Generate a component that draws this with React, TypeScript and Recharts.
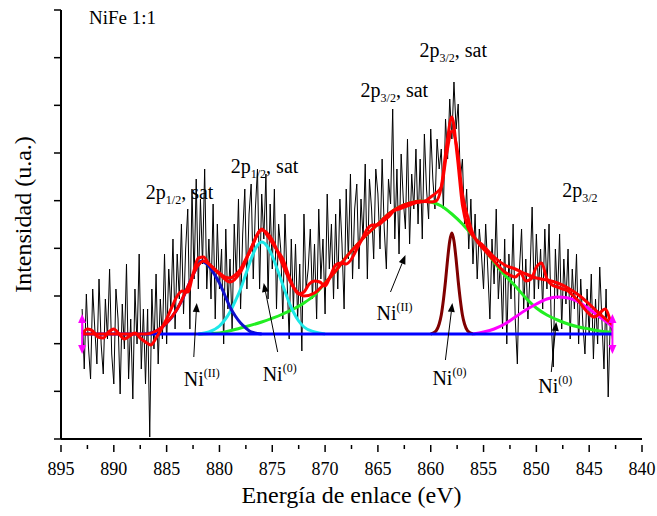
import React from 'react';
import { ComposedChart, Line, XAxis, YAxis, ReferenceDot, ReferenceLine } from 'recharts';

const FONT = '"Liberation Serif", "Times New Roman", serif';

// raw spectrum (black), energy grid 893.0 -> 842.8 step 0.2 eV
const SPEC_START = 893;
const SPEC_STEP = 0.2;
const spectrum = [
  130, 70, 145, 92, 60, 150, 110, 75, 160, 95,
  65, 140, 100, 170, 85, 55, 150, 120, 45, 135,
  90, 175, 60, 120, 40, 150, 95, 185, 70, 130,
  55, 130, 2, 150, 90, 165, 75, 140, 100, 185,
  95, 170, 130, 200, 110, 185, 140, 215, 125, 190,
  230, 110, 250, 160, 260, 150, 240, 175, 270, 150,
  200, 140, 235, 120, 215, 150, 190, 95, 210, 130,
  180, 110, 215, 160, 240, 130, 205, 250, 150, 225,
  255, 160, 230, 270, 150, 245, 200, 265, 140, 235,
  170, 250, 130, 215, 190, 120, 225, 160, 100, 200,
  130, 195, 120, 175, 88, 225, 150, 170, 210, 140,
  195, 120, 230, 160, 200, 125, 245, 170, 215, 140,
  225, 150, 240, 195, 130, 250, 180, 265, 160, 230,
  255, 170, 240, 200, 275, 160, 260, 230, 180, 270,
  245, 190, 280, 210, 170, 260, 235, 330, 200, 270,
  185, 285, 240, 210, 300, 195, 265, 230, 290, 215,
  280, 200, 305, 250, 220, 310, 260, 230, 300, 270,
  290, 230, 320, 280, 340, 300, 357, 310, 335, 260,
  280, 215, 250, 190, 240, 175, 225, 160, 210, 185,
  150, 215, 170, 120, 200, 155, 230, 140, 180, 110,
  200, 95, 185, 140, 215, 120, 75, 170, 210, 130,
  180, 120, 165, 232, 140, 205, 150, 190, 130, 210,
  150, 215, 120, 72, 190, 140, 205, 110, 180, 135,
  190, 100, 170, 130, 185, 95, 160, 115, 85, 150,
  105, 165, 80, 140, 95, 172, 120, 70, 150, 42,
  120, 100,
];

// smoothed spectrum (wiggly red), 893 -> 843 step 0.5
const SMOOTH_START = 893;
const SMOOTH_STEP = 0.5;
const smoothed = [
  105, 110, 108, 102, 101, 107, 110, 105, 100, 103,
  106, 101, 97, 94, 101, 110, 120, 132, 143, 148,
  147, 165, 181, 182, 175, 170, 166, 162, 161, 164,
  170, 180, 190, 203, 210, 204, 196, 188, 180, 165,
  152, 145, 147, 155, 158, 157, 153, 163, 174, 176,
  175, 180, 190, 200, 210, 214, 214, 218, 222, 228,
  230, 232, 234, 236, 237, 238, 242, 246, 252, 285,
  308, 290, 245, 222, 205, 196, 190, 184, 178, 172,
  167, 164, 162, 166, 158, 160, 172, 176, 160, 154,
  152, 150, 148, 143, 138, 131, 125, 122, 126, 130,
  118,
];

// baseline
const baselineE = [893, 842.8];
const baselineV = [105, 105];

// Ni(II) 2p1/2 sat (blue)
const blueE = [887, 886.5, 886, 885.5, 885, 884.5, 884, 883.5, 883, 882.5, 882, 881.7, 881.5, 881, 880.5, 880, 879.5, 879, 878.5, 878, 877.5, 877, 876];
const blueV = [105, 106, 108, 111, 116, 122, 130, 140, 152, 164, 174, 178, 177, 173, 165, 156, 144, 132, 123, 116, 111, 107, 105];

// Ni(0) 2p1/2 sat (cyan)
const cyanE = [882, 881, 880, 879.5, 879, 878.5, 878, 877.5, 877, 876.5, 876, 875.5, 875, 874.5, 874, 873.5, 873, 872.5, 872, 871, 870];
const cyanV = [105, 107, 113, 119, 127, 138, 150, 165, 180, 192, 197, 193, 183, 169, 154, 139, 127, 118, 112, 107, 105];

// Ni(II) 2p3/2 sat (green)
const greenE = [882, 880, 878, 876, 874, 872, 871, 870, 869, 868, 867, 866, 865, 864, 863, 862, 861, 860, 859, 858, 857, 856, 855, 854, 853, 852, 851, 850, 849, 848, 847, 846, 845, 844, 843, 842.8];
const greenV = [105, 106, 111, 117, 125, 136, 144, 156, 168, 182, 194, 205, 215, 225, 232, 236, 238, 237, 233, 225, 215, 203, 191, 177, 164, 153, 141, 131, 124, 119, 115, 112, 110, 108, 107, 107];

// Ni(0) 2p3/2 sat (brown)
const brownE = [860, 859.5, 859.2, 859, 858.8, 858.6, 858.4, 858.2, 858, 857.8, 857.6, 857.4, 857.2, 857, 856.8, 856.5, 856];
const brownV = [105, 108, 115, 124, 139, 158, 180, 198, 206, 198, 180, 158, 139, 124, 115, 108, 105];

// Ni(0) 2p3/2 (magenta)
const magentaE = [856, 855, 854, 853, 852, 851, 850, 849, 848, 847, 846, 845, 844, 843, 842.8];
const magentaV = [105, 107, 110, 115, 122, 129, 135, 140, 142, 141, 137, 130, 122, 114, 112];

// cumulative fit (smooth red)
const fitE = [893, 888, 887, 886, 885, 884, 883, 882, 881.5, 881, 880, 879, 878, 877, 876, 875, 874, 873, 872, 871, 870, 869, 868, 867, 866, 865, 864, 863, 862, 861, 860, 859.5, 859, 858.5, 858, 857.5, 857, 856.5, 856, 855, 854, 853, 852, 851, 850, 849, 848, 847, 846, 845, 844, 843, 842.8];
const fitV = [105, 105, 105, 108, 116, 130, 152, 174, 178, 175, 165, 157, 167, 191, 209, 199, 174, 152, 143, 146, 156, 168, 182, 194, 205, 215, 225, 232, 236, 238, 237, 238, 252, 293, 322, 284, 234, 212, 203, 193, 182, 174, 170, 165, 161, 159, 156, 151, 144, 135, 125, 116, 114];

const xTicks = [895, 892.5, 890, 887.5, 885, 882.5, 880, 877.5, 875, 872.5, 870, 867.5, 865, 862.5, 860, 857.5, 855, 852.5, 850, 847.5, 845, 842.5, 840];
const yTicks = [0, 47.67, 95.33, 143, 190.67, 238.33, 286, 333.67, 381.33, 429];

// annotations: [energy, intensity, main, script, kind, tail]
const annotations: [number, number, string, string, 'sub' | 'sup' | 'plain', string][] = [
  [886.97, 240, '2p', '1/2', 'sub', ', sat'],
  [878.93, 266, '2p', '1/2', 'sub', ', sat'],
  [866.64, 342, '2p', '3/2', 'sub', ', sat'],
  [861.07, 382, '2p', '3/2', 'sub', ', sat'],
  [847.55, 242, '2p', '3/2', 'sub', ''],
  [883.37, 53, 'Ni', '(II)', 'sup', ''],
  [875.91, 58, 'Ni', '(0)', 'sup', ''],
  [865.13, 119, 'Ni', '(II)', 'sup', ''],
  [859.84, 54, 'Ni', '(0)', 'sup', ''],
  [849.82, 46, 'Ni', '(0)', 'sup', ''],
];

// arrows: tail (E, v) -> head (E, v)
const arrows: [number, number, number, number][] = [
  [882.43, 82, 882.15, 136],
  [874.49, 87, 875.81, 156],
  [863.81, 147, 862.39, 184],
  [858.61, 79, 857.95, 136],
  [848.59, 67, 848.12, 117],
];

const zip = (es: number[], vs: number[]) => es.map((e, i) => ({ e, v: vs[i] }));
const specData = spectrum.map((v, i) => ({ e: +(SPEC_START - i * SPEC_STEP).toFixed(2), v }));
const smoothData = smoothed.map((v, i) => ({ e: SMOOTH_START - i * SMOOTH_STEP, v }));

const XTick = (props: any) => {
  const { x, y, payload } = props;
  const val = payload.value;
  const major = Math.abs(val / 5 - Math.round(val / 5)) < 1e-6;
  return (
    <g>
      <line x1={x} x2={x} y1={y} y2={y + (major ? 7 : 4)} stroke="#000" strokeWidth={1.5} />
      {major && (
        <text x={x} y={y + 30} textAnchor="middle" fontSize={18} fontFamily={FONT} fill="#000">
          {val}
        </text>
      )}
    </g>
  );
};

const Arrow = (p: any) => {
  const { x1, y1, x2, y2 } = p;
  const dx = x2 - x1;
  const dy = y2 - y1;
  const L = Math.hypot(dx, dy) || 1;
  const ux = dx / L;
  const uy = dy / L;
  const hl = 9;
  const hw = 3.5;
  const bx = x2 - ux * hl;
  const by = y2 - uy * hl;
  const px = -uy;
  const py = ux;
  return (
    <g>
      <line x1={x1} y1={y1} x2={bx} y2={by} stroke="#000" strokeWidth={1} />
      <polygon points={`${x2},${y2} ${bx + px * hw},${by + py * hw} ${bx - px * hw},${by - py * hw}`} fill="#000" />
    </g>
  );
};

const Anchor = (p: any) => {
  const { cx, cy } = p;
  return (
    <g>
      <line x1={cx} x2={cx} y1={cy - 13} y2={cy + 13} stroke="#ff00ff" strokeWidth={2} />
      <polygon points={`${cx},${cy - 20} ${cx - 4},${cy - 11} ${cx + 4},${cy - 11}`} fill="#ff00ff" />
      <polygon points={`${cx},${cy + 20} ${cx - 4},${cy + 11} ${cx + 4},${cy + 11}`} fill="#ff00ff" />
    </g>
  );
};

const makeAnn = (main: string, script: string, kind: string, tail: string) => (p: any) => {
  const { cx, cy } = p;
  return (
    <text x={cx} y={cy} fontSize={20} fontFamily={FONT} fill="#000">
      <tspan>{main}</tspan>
      {kind === 'sub' && (
        <tspan fontSize={12} dy={5}>
          {script}
        </tspan>
      )}
      {kind === 'sup' && (
        <tspan fontSize={12} dy={-9}>
          {script}
        </tspan>
      )}
      {tail && <tspan dy={kind === 'sub' ? -5 : 9}>{tail}</tspan>}
    </text>
  );
};

const TitleShape = (p: any) => (
  <text x={p.cx} y={p.cy} fontSize={19} fontFamily={FONT} fill="#000">
    NiFe 1:1
  </text>
);

const YLabel = (props: any) => {
  const vb = props.viewBox || { x: 8, y: 10, width: 53, height: 429 };
  const x = vb.x + 15;
  const y = vb.y + vb.height / 2 - 10;
  return (
    <text x={x} y={y} transform={`rotate(-90, ${x}, ${y})`} textAnchor="middle" dominantBaseline="central" fontSize={24} fontFamily={FONT} fill="#000">
      Intensidad (u.a.)
    </text>
  );
};

const XLabel = (props: any) => {
  const vb = props.viewBox || { x: 61, y: 439, width: 581, height: 77 };
  return (
    <text x={vb.x + vb.width / 2} y={vb.y + 64} textAnchor="middle" fontSize={24} fontFamily={FONT} fill="#000">
      Energía de enlace (eV)
    </text>
  );
};

export default function App() {
  return (
    <div style={{ position: 'fixed', left: 0, top: 0, width: 657, height: 516, background: '#fff' }}>
      <ComposedChart width={657} height={516} margin={{ top: 10, right: 15, bottom: 0, left: 8 }}>
        <XAxis
          dataKey="e"
          type="number"
          domain={[840, 895]}
          reversed
          ticks={xTicks}
          interval={0}
          tickLine={false}
          tickMargin={0}
          tick={<XTick />}
          height={77}
          axisLine={{ stroke: '#000', strokeWidth: 2 }}
          allowDataOverflow
          label={<XLabel />}
        />
        <YAxis
          type="number"
          domain={[0, 429]}
          ticks={yTicks}
          interval={0}
          width={53}
          tickSize={7}
          tickFormatter={() => ''}
          tickLine={{ stroke: '#000', strokeWidth: 1.5 }}
          axisLine={{ stroke: '#000', strokeWidth: 2 }}
          allowDataOverflow
          label={<YLabel />}
        />
        <Line data={specData} dataKey="v" type="linear" stroke="#000" strokeWidth={1} dot={false} isAnimationActive={false} />
        <Line data={zip(greenE, greenV)} dataKey="v" type="monotone" stroke="#22ee22" strokeWidth={3} dot={false} isAnimationActive={false} />
        <Line data={zip(cyanE, cyanV)} dataKey="v" type="monotone" stroke="#1ee8e8" strokeWidth={3} dot={false} isAnimationActive={false} />
        <Line data={zip(blueE, blueV)} dataKey="v" type="monotone" stroke="#1010cc" strokeWidth={3} dot={false} isAnimationActive={false} />
        <Line data={zip(brownE, brownV)} dataKey="v" type="monotone" stroke="#800000" strokeWidth={3} dot={false} isAnimationActive={false} />
        <Line data={zip(magentaE, magentaV)} dataKey="v" type="monotone" stroke="#ff00ff" strokeWidth={3} dot={false} isAnimationActive={false} />
        <Line data={zip(baselineE, baselineV)} dataKey="v" type="linear" stroke="#0000ff" strokeWidth={3} dot={false} isAnimationActive={false} />
        <Line data={zip(fitE, fitV)} dataKey="v" type="monotone" stroke="#ff0000" strokeWidth={3} dot={false} isAnimationActive={false} />
        <Line data={smoothData} dataKey="v" type="monotone" stroke="#ff0000" strokeWidth={3} dot={false} isAnimationActive={false} />
        <ReferenceDot x={893} y={105} r={0} shape={Anchor} ifOverflow="visible" />
        <ReferenceDot x={842.8} y={105} r={0} shape={Anchor} ifOverflow="visible" />
        <ReferenceDot x={892.35} y={415} r={0} shape={TitleShape} ifOverflow="visible" />
        {annotations.map(([e, v, main, script, kind, tail], i) => (
          <ReferenceDot key={'a' + i} x={e} y={v} r={0} shape={makeAnn(main, script, kind, tail)} ifOverflow="visible" />
        ))}
        {arrows.map(([e1, v1, e2, v2], i) => (
          <ReferenceLine
            key={'r' + i}
            segment={[{ x: e1, y: v1 }, { x: e2, y: v2 }]}
            shape={Arrow}
            ifOverflow="visible"
          />
        ))}
      </ComposedChart>
    </div>
  );
}
